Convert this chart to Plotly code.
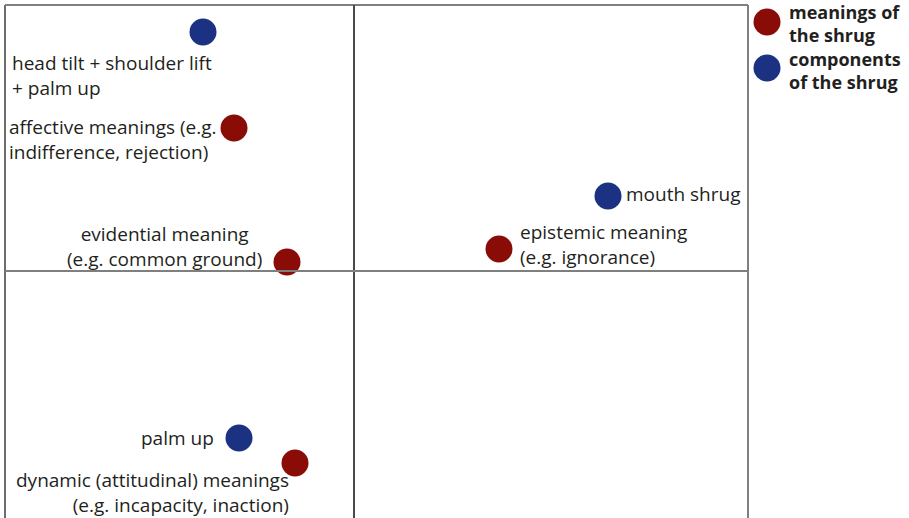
import plotly.graph_objects as go

# ---- data ----
labels = ["head tilt + shoulder lift<br>+ palm up",
          "affective meanings (e.g.<br>indifference, rejection)",
          "evidential meaning<br>(e.g. common ground)",
          "mouth shrug",
          "epistemic meaning<br>(e.g. ignorance)",
          "palm up",
          "dynamic (attitudinal) meanings<br>(e.g. incapacity, inaction)"]
dim1 = [-1.51, -1.20, -0.67, 2.54, 1.45, -1.15, -0.59]
dim2 = [2.39, 1.43, 0.09, 0.75, 0.22, -1.67, -1.92]
group = ["components", "meanings", "meanings", "components", "meanings", "components", "meanings"]
group_names = {"meanings": "meanings of<br>the shrug", "components": "components<br>of the shrug"}

# ---- styles / layout positions ----
colors = {"meanings": "#8a0c06", "components": "#1b3283"}
label_pos = [  # (x, y, xanchor, align)
    (-3.44, 1.955, "left", "left"),
    (-3.47, 1.32, "left", "left"),
    (-1.90, 0.245, "center", "center"),
    (2.70, 0.77, "left", "left"),
    (1.64, 0.265, "left", "left"),
    (-1.38, -1.67, "right", "right"),
    (-0.63, -2.215, "right", "right"),
]
XR = [-3.49, 3.94]
YR = [-2.47, 2.66]
FONT = "Open Sans"
TXT = "#231f20"

fig = go.Figure()
for g in ["meanings", "components"]:
    idx = [i for i in range(len(dim1)) if group[i] == g]
    fig.add_trace(go.Scatter(
        x=[dim1[i] for i in idx], y=[dim2[i] for i in idx],
        mode="markers", name=group_names[g],
        marker=dict(size=27, color=colors[g], line=dict(width=0)),
        showlegend=False, hoverinfo="skip"))

annotations = []
for lab, (x, y, xa, al) in zip(labels, label_pos):
    annotations.append(dict(x=x, y=y, xref="x", yref="y", text=lab, showarrow=False,
                            xanchor=xa, yanchor="middle", align=al,
                            font=dict(family=FONT, size=19, color=TXT)))

shapes = []
# box lines
line_gray = dict(color="#7f7f7f", width=2)
shapes += [
    dict(type="line", xref="paper", yref="paper", x0=0, x1=0, y0=0, y1=1, line=dict(color="#6d6d6d", width=2)),
    dict(type="line", xref="paper", yref="paper", x0=0, x1=1, y0=1, y1=1, line=line_gray),
    dict(type="line", xref="paper", yref="paper", x0=1, x1=1, y0=0, y1=1, line=line_gray),
    dict(type="line", xref="x", yref="paper", x0=0, x1=0, y0=0, y1=1, line=dict(color="#4a4a4a", width=2)),
    dict(type="line", xref="paper", yref="y", x0=0, x1=1, y0=0, y1=0, line=line_gray),
]

W, H = 909, 518
ml, mr, mt, mb = 5, 161, 5, 0
pw, ph = W - ml - mr, H - mt - mb
def px2paper(px, py):
    return (px - ml) / pw, 1 - (py - mt) / ph
legend_entries = [("meanings", 767, 22, 787, 24), ("components", 767, 68, 787, 70)]
for g, cx, cy, tx, ty in legend_entries:
    x0, y0 = px2paper(cx - 13.5, cy + 13.5)
    x1, y1 = px2paper(cx + 13.5, cy - 13.5)
    shapes.append(dict(type="circle", xref="paper", yref="paper", x0=x0, x1=x1, y0=y0, y1=y1,
                       fillcolor=colors[g], line=dict(width=0)))
    ax, ay = px2paper(tx, ty)
    annotations.append(dict(x=ax, y=ay, xref="paper", yref="paper", text="<b>" + group_names[g] + "</b>",
                            showarrow=False, xanchor="left", yanchor="middle", align="left",
                            font=dict(family=FONT, size=18, color=TXT)))

fig.update_layout(
    width=W, height=H, margin=dict(l=ml, r=mr, t=mt, b=mb),
    paper_bgcolor="white", plot_bgcolor="white",
    xaxis=dict(range=XR, visible=False, fixedrange=True),
    yaxis=dict(range=YR, visible=False, fixedrange=True),
    shapes=shapes, annotations=annotations, showlegend=False,
)
fig.write_html("out.html", config={"displayModeBar": False},
               post_script="document.body.style.margin='0';document.body.style.overflow='hidden';")
